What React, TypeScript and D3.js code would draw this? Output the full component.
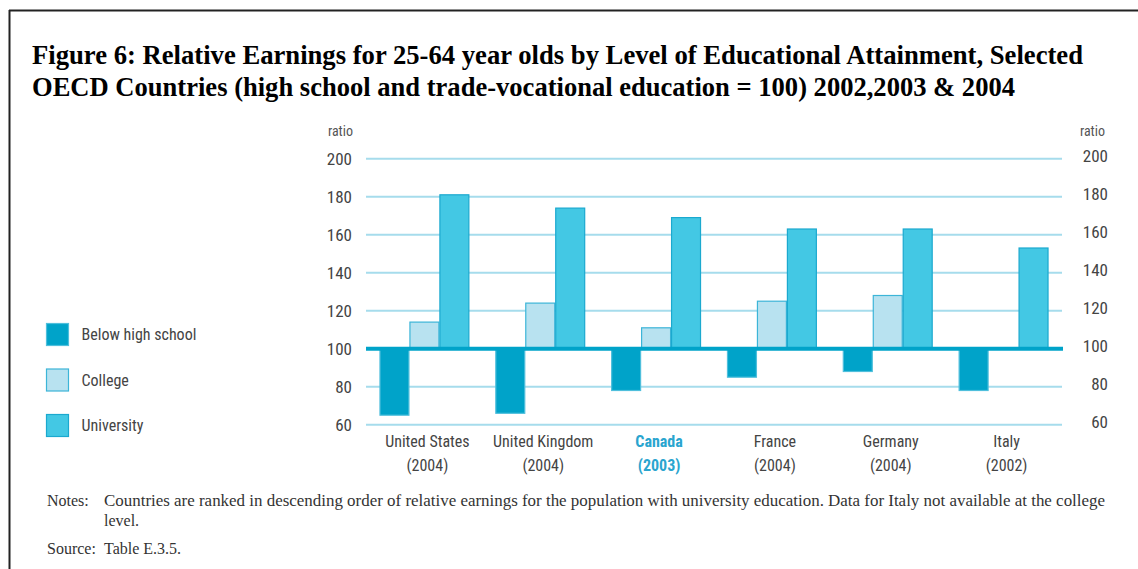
import React from "react";
import * as d3 from "d3";

const countries = ["United States", "United Kingdom", "Canada", "France", "Germany", "Italy"];
const years = ["(2004)", "(2004)", "(2003)", "(2004)", "(2004)", "(2002)"];
const seriesNames = ["Below high school", "College", "University"];
const belowHighSchool: (number | null)[] = [65, 66, 78, 85, 88, 78];
const college: (number | null)[] = [114, 124, 111, 125, 128, null];
const university: (number | null)[] = [181, 174, 169, 163, 163, 153];
const yTicks = [60, 80, 100, 120, 140, 160, 180, 200];
const highlight = "Canada";

const fills = ["#00a3c9", "#b8e2f0", "#43c8e4"];
const strokes = ["#4fbfdc", "#3cb5d8", "#1ba9cf"];

const W = 1138;
const H = 569;
const sans = "'Liberation Sans Narrow', 'Roboto Condensed', 'Arial Narrow', Roboto, sans-serif";
const serif = "'Liberation Serif', 'Times New Roman', serif";

export default function App() {
  const series = [belowHighSchool, college, university];
  const x0 = d3.scaleBand<string>().domain(countries).range([366.5, 1061.5]).paddingInner(0.224).paddingOuter(0.112);
  const x1 = d3.scaleBand<string>().domain(seriesNames).range([0, x0.bandwidth()]);
  const y = d3.scaleLinear().domain([60, 200]).range([424.7, 158.7]);
  const gridX0 = 366;
  const gridX1 = 1062;

  return (
    <div style={{ position: "fixed", left: 0, top: 0 }}>
      <svg width={W} height={H} style={{ display: "block", background: "#fff" }}>
        {/* frame */}
        <line x1={9} x2={W} y1={10.5} y2={10.5} stroke="#222" strokeWidth={2} />
        <line x1={9.5} x2={9.5} y1={10} y2={H} stroke="#222" strokeWidth={2} />

        {/* title */}
        <text x={32} y={64} fontFamily={serif} fontWeight="bold" fontSize={28} fill="#000"
          textLength={1051} lengthAdjust="spacingAndGlyphs">
          Figure 6: Relative Earnings for 25-64 year olds by Level of Educational Attainment, Selected
        </text>
        <text x={32} y={96} fontFamily={serif} fontWeight="bold" fontSize={28} fill="#000"
          textLength={983} lengthAdjust="spacingAndGlyphs">
          OECD Countries (high school and trade-vocational education = 100) 2002,2003 &amp; 2004
        </text>

        {/* gridlines */}
        {yTicks.filter((t) => t !== 100).map((t) => (
          <line key={"g" + t} x1={gridX0} x2={gridX1} y1={y(t)} y2={y(t)} stroke="#a6dcec" strokeWidth={2} />
        ))}

        {/* axis labels */}
        <text x={353} y={131} fontFamily={sans} fontSize={14} fill="#555" textAnchor="end" dominantBaseline="central">ratio</text>
        <text x={1105} y={131} fontFamily={sans} fontSize={14} fill="#555" textAnchor="end" dominantBaseline="central">ratio</text>
        {yTicks.map((t) => (
          <g key={"t" + t}>
            <text x={352} y={y(t)} fontFamily={sans} fontSize={17} fill="#444" textAnchor="end" dominantBaseline="central">{t}</text>
            <text x={1108} y={y(t) - 3} fontFamily={sans} fontSize={17} fill="#444" textAnchor="end" dominantBaseline="central">{t}</text>
          </g>
        ))}

        {/* bars */}
        {countries.map((c, i) => (
          <g key={c} transform={`translate(${x0(c)},0)`}>
            {series.map((s, k) => {
              const v = s[i];
              if (v == null) return null;
              const top = Math.min(y(v), y(100));
              const h = Math.abs(y(v) - y(100));
              return (
                <rect key={k} x={x1(seriesNames[k])! + 0.5} y={top} width={x1.bandwidth() - 1} height={h}
                  fill={fills[k]} stroke={strokes[k]} strokeWidth={1.2} />
              );
            })}
          </g>
        ))}

        {/* baseline 100 */}
        <line x1={gridX0} x2={gridX1 + 1} y1={y(100)} y2={y(100)} stroke="#00a3c9" strokeWidth={4} />

        {/* category labels */}
        {countries.map((c, i) => {
          const cx = x0(c)! + x0.bandwidth() / 2 + 3;
          const col = c === highlight ? "#2aa5cf" : "#444";
          const fw = c === highlight ? "bold" : "normal";
          return (
            <g key={"l" + c}>
              <text x={cx} y={441} fontFamily={sans} fontSize={16} fill={col} fontWeight={fw} textAnchor="middle" dominantBaseline="central">{c}</text>
              <text x={cx} y={465} fontFamily={sans} fontSize={16} fill={col} fontWeight={fw} textAnchor="middle" dominantBaseline="central">{years[i]}</text>
            </g>
          );
        })}

        {/* legend */}
        {seriesNames.map((n, k) => (
          <g key={"lg" + n} transform={`translate(46.5, ${323.5 + k * 45.5})`}>
            <rect width={22} height={22} fill={fills[k]} stroke={strokes[k]} strokeWidth={1.2} />
            <text x={35} y={11} fontFamily={sans} fontSize={16} fill="#444" dominantBaseline="central">{n}</text>
          </g>
        ))}

        {/* notes */}
        <text x={47} y={506} fontFamily={serif} fontSize={16} fill="#333">Notes:</text>
        <text x={104} y={506} fontFamily={serif} fontSize={16} fill="#333" textLength={1001} lengthAdjust="spacingAndGlyphs">
          Countries are ranked in descending order of relative earnings for the population with university education. Data for Italy not available at the college
        </text>
        <text x={104} y={526} fontFamily={serif} fontSize={16} fill="#333">level.</text>
        <text x={47} y={554} fontFamily={serif} fontSize={16} fill="#333">Source:</text>
        <text x={104} y={554} fontFamily={serif} fontSize={16} fill="#333">Table E.3.5.</text>
      </svg>
    </div>
  );
}
